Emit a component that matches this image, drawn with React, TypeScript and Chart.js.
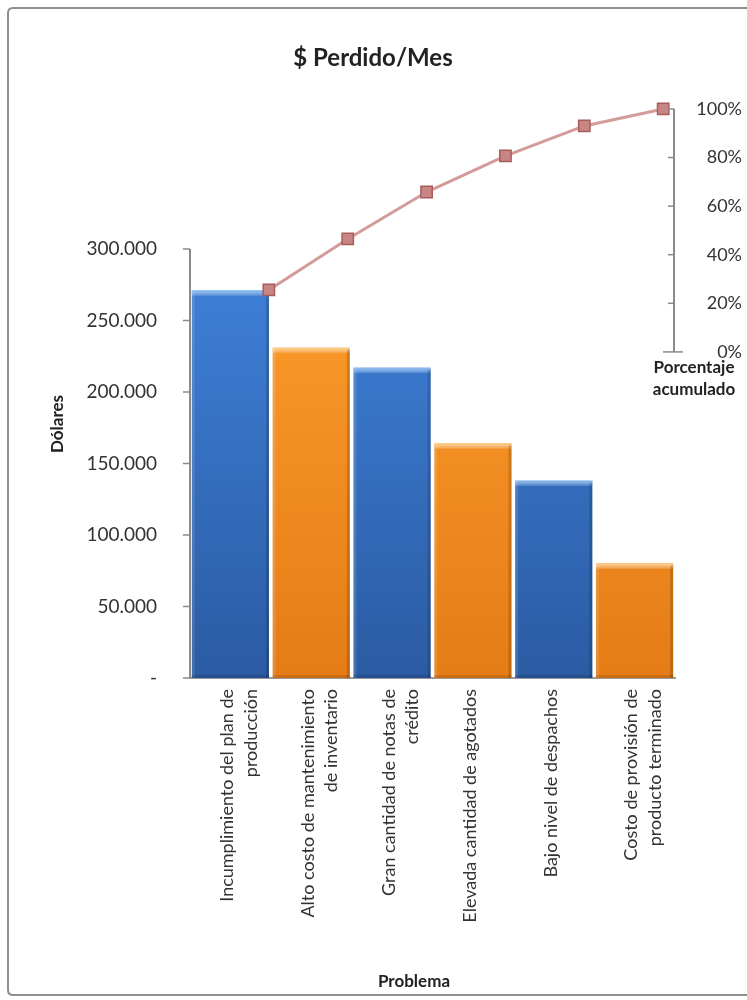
import React, { useEffect, useRef } from "react";
import { Chart, registerables } from "chart.js";

Chart.register(...registerables);

// ---------- data ----------
const categories: string[][] = [
  ["Incumplimiento del plan de", "producción"],
  ["Alto costo de mantenimiento", "de inventario"],
  ["Gran cantidad de notas de", "crédito"],
  ["Elevada cantidad de agotados"],
  ["Bajo nivel de despachos"],
  ["Costo de provisión de", "producto terminado"],
];
const dollarsLost = [271000, 231000, 217000, 164000, 138000, 80000];
const cumulativePercent = [25.5, 46.5, 65.8, 80.7, 93, 100];
const leftTickValues = [0, 50000, 100000, 150000, 200000, 250000, 300000];
const rightTickValues = [0, 20, 40, 60, 80, 100];

const chartTitle = "$ Perdido/Mes";
const leftAxisTitle = "Dólares";
const rightAxisTitle = ["Porcentaje", "acumulado"];
const bottomAxisTitle = "Problema";

const FONT = "Lato, 'Open Sans', sans-serif";

const palette = {
  blue: { top: "#3f82da", bottom: "#2b5ba3", light: "rgba(140,192,248,0.9)" },
  orange: { top: "#fc9d2c", bottom: "#e57c16", light: "rgba(255,208,135,0.95)" },
};
const barKinds = ["blue", "orange", "blue", "orange", "blue", "orange"] as const;

const leftMax = leftTickValues[leftTickValues.length - 1];
const rightMax = rightTickValues[rightTickValues.length - 1];

function formatDots(v: number): string {
  const s = Math.round(v).toString();
  return s.replace(/\B(?=(\d{3})+(?!\d))/g, ".");
}

const decorPlugin = {
  id: "decor",
  beforeDraw(chart: any) {
    const { ctx, width, height } = chart;
    ctx.save();
    ctx.fillStyle = "#ffffff";
    ctx.fillRect(0, 0, width, height);
    ctx.strokeStyle = "#8f8f8f";
    ctx.lineWidth = 2;
    const x0 = 8, y0 = 8, x1 = width + 20, y1 = 995, r = 5;
    ctx.beginPath();
    ctx.moveTo(x1, y0);
    ctx.lineTo(x0 + r, y0);
    ctx.quadraticCurveTo(x0, y0, x0, y0 + r);
    ctx.lineTo(x0, y1 - r);
    ctx.quadraticCurveTo(x0, y1, x0 + r, y1);
    ctx.lineTo(x1, y1);
    ctx.stroke();
    ctx.restore();
  },
  afterDatasetDraw(chart: any, args: any) {
    if (args.index !== 0) return;
    const { ctx } = chart;
    const meta = chart.getDatasetMeta(0);
    ctx.save();
    meta.data.forEach((el: any, i: number) => {
      const kind = palette[barKinds[i]];
      const w = el.width;
      const left = el.x - w / 2;
      const right = el.x + w / 2;
      const top = el.y;
      const bottom = el.base;
      const h = bottom - top;
      const g = ctx.createLinearGradient(0, top, 0, top + 6);
      g.addColorStop(0, kind.light);
      g.addColorStop(1, "rgba(255,255,255,0)");
      ctx.fillStyle = g;
      ctx.fillRect(left, top, w, 6);
      ctx.fillStyle = "rgba(255,255,255,0.12)";
      ctx.fillRect(left, top, 3, h);
      ctx.fillStyle = "rgba(0,0,0,0.16)";
      ctx.fillRect(right - 3, top + 2, 3, h - 2);
      ctx.fillStyle = "rgba(0,0,0,0.12)";
      ctx.fillRect(left, bottom - 3, w, 3);
    });
    ctx.restore();
  },
  afterDraw(chart: any) {
    const { ctx, chartArea } = chart;
    const y = chart.scales.y;
    const y2 = chart.scales.y2;
    ctx.save();
    ctx.strokeStyle = "#8a8a8a";
    ctx.lineWidth = 2;
    // left axis line + tick marks
    const lx = chartArea.left;
    ctx.beginPath();
    ctx.moveTo(lx, y.getPixelForValue(0));
    ctx.lineTo(lx, y.getPixelForValue(leftMax));
    ctx.stroke();
    ctx.lineWidth = 1.5;
    leftTickValues.forEach((v) => {
      const py = y.getPixelForValue(v);
      ctx.beginPath();
      ctx.moveTo(lx - 7, py);
      ctx.lineTo(lx, py);
      ctx.stroke();
    });
    // right axis line + tick marks
    const rx = chartArea.right - 1;
    ctx.lineWidth = 2;
    ctx.beginPath();
    ctx.moveTo(rx, y2.getPixelForValue(0));
    ctx.lineTo(rx, y2.getPixelForValue(rightMax));
    ctx.stroke();
    ctx.lineWidth = 1.5;
    rightTickValues.forEach((v) => {
      const py = y2.getPixelForValue(v);
      ctx.beginPath();
      if (v === 0) {
        ctx.moveTo(rx - 11, py);
        ctx.lineTo(rx + 9, py);
      } else {
        ctx.moveTo(rx - 6, py);
        ctx.lineTo(rx, py);
      }
      ctx.stroke();
    });

    // titles
    ctx.fillStyle = "#222222";
    ctx.textAlign = "center";
    ctx.textBaseline = "middle";
    ctx.font = `bold 24px ${FONT}`;
    ctx.fillText(chartTitle, 373, 58);

    ctx.font = `bold 17px ${FONT}`;
    ctx.fillText(bottomAxisTitle, 414, 982);
    ctx.fillText(rightAxisTitle[0], 694, 368);
    ctx.fillText(rightAxisTitle[1], 694, 390);

    ctx.save();
    ctx.translate(58, 424);
    ctx.rotate(-Math.PI / 2);
    ctx.fillText(leftAxisTitle, 0, 0);
    ctx.restore();

    ctx.restore();
  },
};

export default function App() {
  const canvasRef = useRef<HTMLCanvasElement | null>(null);

  useEffect(() => {
    const canvas = canvasRef.current;
    if (!canvas) return;

    const barGradient = (kind: "blue" | "orange") => (c: any) => {
      const chart = c.chart;
      const area = chart.chartArea;
      if (!area) return palette[kind].top;
      const ys = chart.scales.y;
      const g = chart.ctx.createLinearGradient(0, ys.getPixelForValue(leftMax), 0, area.bottom);
      g.addColorStop(0, palette[kind].top);
      g.addColorStop(1, palette[kind].bottom);
      return g;
    };
    const blueFill = barGradient("blue");
    const orangeFill = barGradient("orange");

    const chart = new Chart(canvas, {
      type: "bar",
      data: {
        labels: categories,
        datasets: [
          {
            type: "bar",
            label: "$ Perdido/Mes",
            data: dollarsLost,
            xAxisID: "x",
            yAxisID: "y",
            order: 1,
            grouped: false,
            backgroundColor: (c: any) => (barKinds[c.dataIndex] === "blue" ? blueFill(c) : orangeFill(c)),
            borderWidth: 0,
            categoryPercentage: 1,
            barPercentage: 0.955,
          },
          {
            type: "line",
            label: "Porcentaje acumulado",
            data: cumulativePercent.map((v, i) => ({ x: i + 1, y: v })),
            xAxisID: "x2",
            yAxisID: "y2",
            order: 0,
            borderColor: "#d39b9a",
            borderWidth: 3,
            pointStyle: "rect",
            pointRadius: 8,
            pointBackgroundColor: "#c98584",
            pointBorderColor: "#a65d5c",
            pointBorderWidth: 1.5,
            tension: 0,
            clip: false,
          } as any,
        ],
      },
      options: {
        animation: false,
        responsive: false,
        devicePixelRatio: 1,
        layout: { padding: { top: 106, left: 8, right: 5, bottom: 0 } },
        plugins: {
          legend: { display: false },
          tooltip: { enabled: false },
          title: { display: false },
        },
        scales: {
          x: {
            type: "category",
            position: "bottom",
            offset: true,
            grid: { display: false, drawTicks: false },
            border: { display: true, color: "#9a9a9a", width: 2 },
            ticks: {
              autoSkip: false,
              minRotation: 90,
              maxRotation: 90,
              padding: 11,
              labelOffset: -3,
              color: "#333333",
              font: { family: FONT, size: 18, lineHeight: 1.3 },
            },
            afterFit: (s: any) => {
              s.height = 322;
            },
          },
          x2: {
            type: "linear",
            display: false,
            offset: false,
            grid: { offset: false },
            min: 0,
            max: 6.15,
          },
          y: {
            type: "linear",
            position: "left",
            min: 0,
            max: 400000,
            border: { display: false },
            grid: { display: false, drawTicks: false },
            ticks: {
              stepSize: 50000,
              padding: 33,
              color: "#333333",
              font: { family: FONT, size: 19 },
              callback: (v: any) => {
                const n = Number(v);
                if (n > leftMax) return null;
                if (n === 0) return "-";
                return formatDots(n);
              },
            },
            afterFit: (s: any) => {
              s.width = 182;
            },
          },
          y2: {
            type: "linear",
            position: "right",
            min: -134.2,
            max: 101.2,
            border: { display: false },
            grid: { display: false, drawTicks: false },
            ticks: {
              stepSize: 20,
              includeBounds: false,
              crossAlign: "far",
              color: "#333333",
              font: { family: FONT, size: 18 },
              callback: (v: any) => {
                const n = Number(v);
                if (n < -0.01 || n > rightMax + 0.01) return null;
                return Math.round(n) + "%";
              },
            },
            afterFit: (s: any) => {
              s.width = 67;
            },
          },
        },
      } as any,
      plugins: [decorPlugin],
    });

    return () => {
      chart.destroy();
    };
  }, []);

  return (
    <div style={{ position: "fixed", left: 0, top: 0, width: 747, height: 1000, background: "#fff" }}>
      <canvas ref={canvasRef} width={747} height={1000} style={{ display: "block", width: 747, height: 1000 }} />
    </div>
  );
}
